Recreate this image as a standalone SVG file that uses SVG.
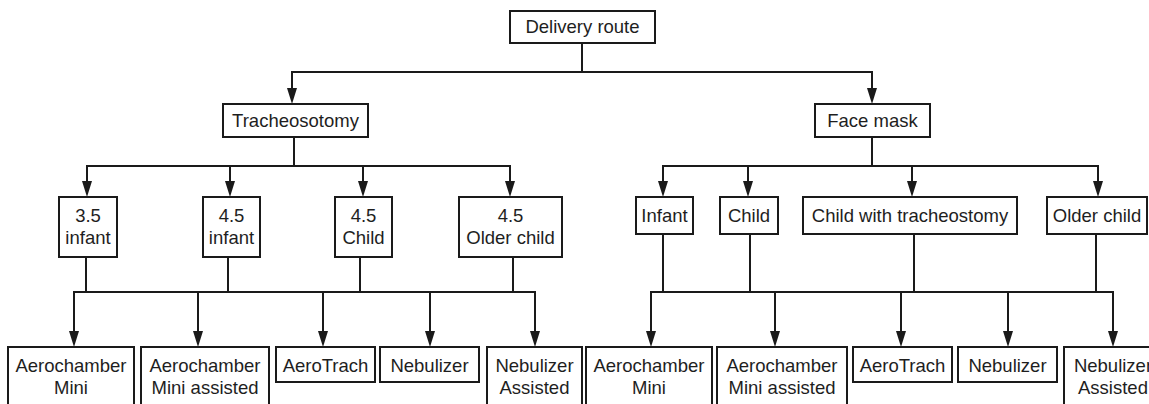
<svg xmlns="http://www.w3.org/2000/svg" width="1149" height="404" viewBox="0 0 1149 404">
<style>
.box{fill:#fff;stroke:#1a1a1a;stroke-width:2}
.t{font-family:"Liberation Sans",Arial,sans-serif;font-size:18.5px;fill:#1e1e1e;text-anchor:middle}
.ln{fill:none;stroke:#1a1a1a;stroke-width:2}
.ar{fill:none;stroke:#1a1a1a;stroke-width:2;marker-end:url(#ah)}
</style>
<defs>
<marker id="ah" markerUnits="userSpaceOnUse" markerWidth="17" markerHeight="11" refX="6" refY="5.5" orient="auto">
<path d="M0,0.5 L16,5.5 L0,10.5 z" fill="#1a1a1a"/>
</marker>
</defs>
<rect width="1149" height="404" fill="#fff"/>
<g id="connectors">
<path class="ln" d="M582,43 V72"/>
<path class="ar" d="M582,72 H292 V94"/>
<path class="ar" d="M582,72 H872 V94"/>
<path class="ln" d="M294,137 V166"/>
<path class="ar" d="M294,166 H87 V187"/>
<path class="ar" d="M230,166 V187"/>
<path class="ar" d="M363,166 V187"/>
<path class="ar" d="M294,166 H510 V187"/>
<path class="ln" d="M872,137 V166"/>
<path class="ar" d="M872,166 H663 V187"/>
<path class="ar" d="M748,166 V187"/>
<path class="ar" d="M912,166 V187"/>
<path class="ar" d="M872,166 H1098 V187"/>
<path class="ln" d="M86,257 V292 M228,257 V292 M360,257 V292 M513,257 V292"/>
<path class="ar" d="M300,292 H74 V337"/>
<path class="ar" d="M198,292 V337"/>
<path class="ar" d="M323,292 V337"/>
<path class="ar" d="M430,292 V337"/>
<path class="ar" d="M300,292 H535 V337"/>
<path class="ln" d="M663,234 V292 M750,234 V292 M914,234 V292 M1096,234 V292"/>
<path class="ar" d="M880,292 H651 V337"/>
<path class="ar" d="M775,292 V337"/>
<path class="ar" d="M901,292 V337"/>
<path class="ar" d="M1008,292 V337"/>
<path class="ar" d="M880,292 H1113 V337"/>
</g>
<g id="delivery-route"><rect class="box" x="510" y="11" width="145" height="32"/><text class="t" x="582.5" y="33">Delivery route</text></g>
<g id="tracheosotomy"><rect class="box" x="223" y="104" width="145" height="33"/><text class="t" x="295.5" y="127">Tracheosotomy</text></g>
<g id="face-mask"><rect class="box" x="815" y="104" width="115" height="33"/><text class="t" x="872.5" y="127">Face mask</text></g>
<g id="t-35-infant"><rect class="box" x="59" y="197" width="58" height="60"/><text class="t" x="88" y="222">3.5</text><text class="t" x="88" y="244">infant</text></g>
<g id="t-45-infant"><rect class="box" x="203" y="197" width="57" height="60"/><text class="t" x="231.5" y="222">4.5</text><text class="t" x="231.5" y="244">infant</text></g>
<g id="t-45-child"><rect class="box" x="335" y="197" width="57" height="60"/><text class="t" x="363.5" y="222">4.5</text><text class="t" x="363.5" y="244">Child</text></g>
<g id="t-45-older-child"><rect class="box" x="459" y="197" width="103" height="60"/><text class="t" x="510.5" y="222">4.5</text><text class="t" x="510.5" y="244">Older child</text></g>
<g id="f-infant"><rect class="box" x="636" y="197" width="57" height="37"/><text class="t" x="664.5" y="222">Infant</text></g>
<g id="f-child"><rect class="box" x="720" y="197" width="58" height="37"/><text class="t" x="749" y="222">Child</text></g>
<g id="f-child-trach"><rect class="box" x="803" y="197" width="214" height="37"/><text class="t" x="910" y="222">Child with tracheostomy</text></g>
<g id="f-older-child"><rect class="box" x="1047" y="197" width="100" height="37"/><text class="t" x="1097" y="222">Older child</text></g>
<g id="t-aero-mini"><rect class="box" x="8" y="347" width="126" height="70"/><text class="t" x="71" y="372">Aerochamber</text><text class="t" x="71" y="394">Mini</text></g>
<g id="t-aero-mini-assisted"><rect class="box" x="141" y="347" width="128" height="70"/><text class="t" x="205" y="372">Aerochamber</text><text class="t" x="205" y="394">Mini assisted</text></g>
<g id="t-aerotrach"><rect class="box" x="276" y="347" width="99" height="35"/><text class="t" x="325.5" y="372">AeroTrach</text></g>
<g id="t-nebulizer"><rect class="box" x="380" y="347" width="99" height="35"/><text class="t" x="429.5" y="372">Nebulizer</text></g>
<g id="t-nebulizer-assisted"><rect class="box" x="487" y="347" width="95" height="70"/><text class="t" x="534.5" y="372">Nebulizer</text><text class="t" x="534.5" y="394">Assisted</text></g>
<g id="f-aero-mini"><rect class="box" x="586" y="347" width="126" height="70"/><text class="t" x="649" y="372">Aerochamber</text><text class="t" x="649" y="394">Mini</text></g>
<g id="f-aero-mini-assisted"><rect class="box" x="717" y="347" width="130" height="70"/><text class="t" x="782" y="372">Aerochamber</text><text class="t" x="782" y="394">Mini assisted</text></g>
<g id="f-aerotrach"><rect class="box" x="853" y="347" width="99" height="35"/><text class="t" x="902.5" y="372">AeroTrach</text></g>
<g id="f-nebulizer"><rect class="box" x="958" y="347" width="99" height="35"/><text class="t" x="1007.5" y="372">Nebulizer</text></g>
<g id="f-nebulizer-assisted"><rect class="box" x="1064" y="347" width="98" height="70"/><text class="t" x="1113" y="372">Nebulizer</text><text class="t" x="1113" y="394">Assisted</text></g>
</svg>
